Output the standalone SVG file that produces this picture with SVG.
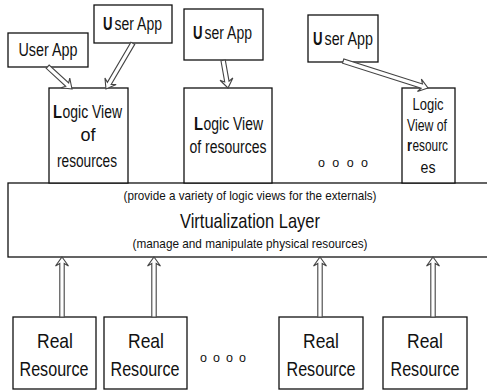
<svg xmlns="http://www.w3.org/2000/svg" width="487" height="391" viewBox="0 0 487 391">
<style>
.box{fill:#fff;stroke:#111;stroke-width:1.3}
text{font-family:"Liberation Sans Narrow","Liberation Sans",Arial,sans-serif;fill:#111;text-anchor:middle}
.s{text-anchor:start}
.b{font-weight:bold}
.t16{font-size:18px}
.t15{font-size:16px}
.t18{font-size:21px}
.small{font-size:13.5px}
.big{font-size:21px}
.dots{font-size:12.5px}
.arr{fill:#fff;stroke:#444;stroke-width:1.1;stroke-linejoin:miter}
</style>
<rect width="487" height="391" fill="#fff"/>
<g id="layer">
<rect class="box" x="8" y="183" width="485" height="74"/>
<text class="small" x="250" y="200" textLength="253" lengthAdjust="spacingAndGlyphs">(provide a variety of logic views for the externals)</text>
<text class="big" x="250" y="228" textLength="140" lengthAdjust="spacingAndGlyphs">Virtualization Layer</text>
<text class="small" x="250" y="248" textLength="235" lengthAdjust="spacingAndGlyphs">(manage and manipulate physical resources)</text>
</g>
<g id="lv1">
<rect class="box" x="49" y="88" width="79" height="95"/>
<text class="t16 s b" x="53" y="118" textLength="9" lengthAdjust="spacingAndGlyphs">L</text>
<text class="t16 s" x="62.5" y="118" textLength="59.5" lengthAdjust="spacingAndGlyphs">ogic View</text>
<text class="t16" x="88" y="141">of</text>
<text class="t16" x="87" y="167" textLength="60" lengthAdjust="spacingAndGlyphs">resources</text>
</g>
<g id="lv2">
<rect class="box" x="184" y="88" width="88" height="95"/>
<text class="t16 s b" x="194" y="130" textLength="9" lengthAdjust="spacingAndGlyphs">L</text>
<text class="t16 s" x="203.5" y="130" textLength="59.5" lengthAdjust="spacingAndGlyphs">ogic View</text>
<text class="t16" x="228" y="153" textLength="77" lengthAdjust="spacingAndGlyphs">of resources</text>
</g>
<g id="lv3">
<rect class="box" x="402" y="88" width="53" height="95"/>
<text class="t15" x="428" y="110" textLength="31" lengthAdjust="spacingAndGlyphs">Logic</text>
<text class="t15" x="427" y="131" textLength="40" lengthAdjust="spacingAndGlyphs">View of</text>
<text class="t15 s b" x="407" y="151" textLength="5" lengthAdjust="spacingAndGlyphs">r</text>
<text class="t15 s" x="412.5" y="151" textLength="35.5" lengthAdjust="spacingAndGlyphs">esourc</text>
<text class="t15" x="428" y="173" textLength="15" lengthAdjust="spacingAndGlyphs">es</text>
</g>
<g id="ua1">
<rect class="box" x="8" y="33" width="80" height="34"/>
<text class="t16" x="48" y="56" textLength="59" lengthAdjust="spacingAndGlyphs">User App</text>
</g>
<g id="ua2">
<rect class="box" x="94" y="5" width="78" height="38"/>
<text class="t16 s b" x="103" y="30" textLength="9.5" lengthAdjust="spacingAndGlyphs">U</text>
<text class="t16 s" x="114.5" y="30" textLength="47.5" lengthAdjust="spacingAndGlyphs">ser App</text>
</g>
<g id="ua3">
<rect class="box" x="184" y="9" width="79" height="51"/>
<text class="t16 s b" x="193" y="39" textLength="9.5" lengthAdjust="spacingAndGlyphs">U</text>
<text class="t16 s" x="204.5" y="39" textLength="47.5" lengthAdjust="spacingAndGlyphs">ser App</text>
</g>
<g id="ua4">
<rect class="box" x="308" y="15" width="70" height="47"/>
<text class="t16 s b" x="313" y="45" textLength="9.5" lengthAdjust="spacingAndGlyphs">U</text>
<text class="t16 s" x="324.5" y="45" textLength="48.5" lengthAdjust="spacingAndGlyphs">ser App</text>
</g>
<g id="rr1">
<rect class="box" x="13" y="317" width="83" height="72"/>
<text class="t18" x="55" y="348" textLength="36" lengthAdjust="spacingAndGlyphs">Real</text>
<text class="t18" x="54" y="376" textLength="69" lengthAdjust="spacingAndGlyphs">Resource</text>
</g>
<g id="rr2">
<rect class="box" x="104" y="317" width="83" height="72"/>
<text class="t18" x="146" y="348" textLength="36" lengthAdjust="spacingAndGlyphs">Real</text>
<text class="t18" x="145" y="376" textLength="69" lengthAdjust="spacingAndGlyphs">Resource</text>
</g>
<g id="rr3">
<rect class="box" x="279" y="317" width="84" height="72"/>
<text class="t18" x="321" y="348" textLength="36" lengthAdjust="spacingAndGlyphs">Real</text>
<text class="t18" x="321" y="376" textLength="69" lengthAdjust="spacingAndGlyphs">Resource</text>
</g>
<g id="rr4">
<rect class="box" x="383" y="317" width="84" height="72"/>
<text class="t18" x="425" y="348" textLength="36" lengthAdjust="spacingAndGlyphs">Real</text>
<text class="t18" x="425" y="376" textLength="69" lengthAdjust="spacingAndGlyphs">Resource</text>
</g>
<g id="dots">
<text class="dots" x="343" y="167" textLength="50" lengthAdjust="spacing">o o o o</text>
<text class="dots" x="223" y="362" textLength="46" lengthAdjust="spacing">o o o o</text>
</g>
<g id="connectors">
<polygon class="arr" transform="translate(72,89) rotate(132.5)" points="0,0 6.5,9 2.2,6.5 2.2,33 -2.2,33 -2.2,6.5 -6.5,9"/>
<polygon class="arr" transform="translate(106,89) rotate(210.4)" points="0,0 6.5,9 2.2,6.5 2.2,53 -2.2,53 -2.2,6.5 -6.5,9"/>
<polygon class="arr" transform="translate(228,88) rotate(170)" points="0,0 6.5,9 2.2,6.5 2.2,28 -2.2,28 -2.2,6.5 -6.5,9"/>
<polygon class="arr" transform="translate(428,88) rotate(107.6)" points="0,0 6.5,9 2.2,6.5 2.2,89 -2.2,89 -2.2,6.5 -6.5,9"/>
<polygon class="arr" transform="translate(62,257)" points="0,0 6.5,9 2.2,6.5 2.2,60 -2.2,60 -2.2,6.5 -6.5,9"/>
<polygon class="arr" transform="translate(154,257)" points="0,0 6.5,9 2.2,6.5 2.2,60 -2.2,60 -2.2,6.5 -6.5,9"/>
<polygon class="arr" transform="translate(320,257)" points="0,0 6.5,9 2.2,6.5 2.2,60 -2.2,60 -2.2,6.5 -6.5,9"/>
<polygon class="arr" transform="translate(433,257)" points="0,0 6.5,9 2.2,6.5 2.2,60 -2.2,60 -2.2,6.5 -6.5,9"/>
</g>
</svg>
